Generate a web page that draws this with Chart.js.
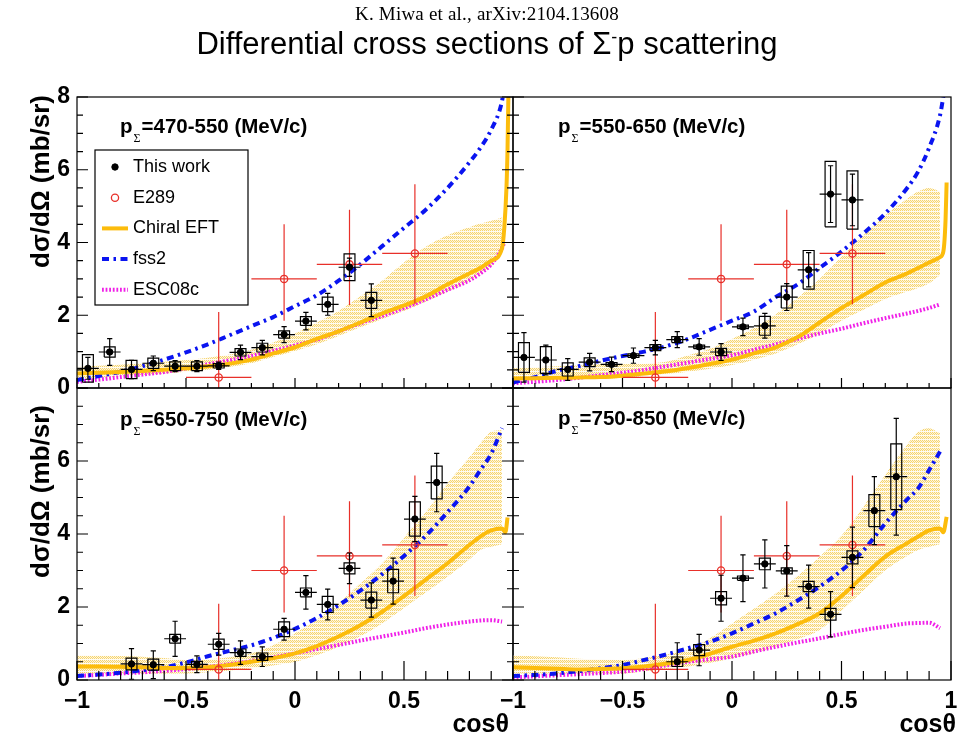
<!DOCTYPE html>
<html>
<head>
<meta charset="utf-8">
<title>Differential cross sections of Σ⁻p scattering</title>
<script src="https://cdn.jsdelivr.net/npm/chart.js@4.4.1/dist/chart.umd.min.js"></script>
<style>
  html, body { margin: 0; padding: 0; background: #fff; }
  #page { position: relative; width: 974px; height: 741px; overflow: hidden; background: #fff;
          font-family: "Liberation Sans", Arial, sans-serif; color: #000; }
  #page canvas { position: absolute; left: 0; top: 0; }
  .txt { position: absolute; white-space: nowrap; }
  #cite { left: 0; width: 974px; top: 3px; text-align: center; font-family: "Liberation Serif", serif;
          font-size: 19px; line-height: 22px; letter-spacing: 0.2px; }
  #title { left: 0; width: 974px; top: 27px; text-align: center; font-size: 31px; line-height: 34px; }
  #title sup { font-size: 18px; position: relative; top: -11px; vertical-align: baseline; margin-left: 0; }
  .ytitle { left: 0; top: 0; width: 300px; text-align: right; font-weight: bold; font-size: 26px;
            line-height: 30px; transform-origin: 0 0; }
  .xtitle { width: 120px; text-align: right; font-weight: bold; font-size: 25px; line-height: 30px; top: 708px; }
  .plabel { font-weight: bold; font-size: 20.5px; line-height: 20px; }
  .plabel .sub { font-family: "Liberation Serif", serif; font-weight: normal; font-size: 12px;
                 position: relative; top: 9px; margin: 0 1px; }
</style>
</head>
<body>
<div id="page">
  <canvas id="cv470" width="974" height="741"></canvas>
  <canvas id="cv550" width="974" height="741"></canvas>
  <canvas id="cv650" width="974" height="741"></canvas>
  <canvas id="cv750" width="974" height="741"></canvas>

  <div class="txt" id="cite">K. Miwa et al., arXiv:2104.13608</div>
  <div class="txt" id="title">Differential cross sections of Σ<sup>-</sup>p scattering</div>

  <div class="txt ytitle" style="transform: translate(25px, 395px) rotate(-90deg);">dσ/dΩ (mb/sr)</div>
  <div class="txt ytitle" style="transform: translate(25px, 705px) rotate(-90deg);">dσ/dΩ (mb/sr)</div>

  <div class="txt xtitle" style="left: 389px;">cosθ</div>
  <div class="txt xtitle" style="left: 836px;">cosθ</div>

  <div class="txt plabel" style="left: 120px; top: 116px;">p<span class="sub">Σ</span>=470-550 (MeV/c)</div>
  <div class="txt plabel" style="left: 558px; top: 116px;">p<span class="sub">Σ</span>=550-650 (MeV/c)</div>
  <div class="txt plabel" style="left: 120px; top: 409px;">p<span class="sub">Σ</span>=650-750 (MeV/c)</div>
  <div class="txt plabel" style="left: 558px; top: 408px;">p<span class="sub">Σ</span>=750-850 (MeV/c)</div>
</div>

<script>
// ---------------- measured cross sections (this work) ----------------
// p = 470-550 MeV/c
const cos470 = [-0.95,-0.85,-0.75,-0.65,-0.55,-0.45,-0.35,-0.25,-0.15,-0.05,0.05,0.15,0.25,0.35];
const ds470  = [0.54,0.99,0.51,0.68,0.60,0.60,0.61,0.98,1.11,1.47,1.84,2.30,3.32,2.41];
const stat470 = [0.30,0.37,0.25,0.20,0.15,0.15,0.10,0.20,0.20,0.22,0.24,0.30,0.25,0.45];
const sys470  = [0.38,0.14,0.25,0.14,0.12,0.12,0.06,0.10,0.12,0.10,0.12,0.20,0.37,0.22];
// p = 550-650 MeV/c
const cos550 = [-0.95,-0.85,-0.75,-0.65,-0.55,-0.45,-0.35,-0.25,-0.15,-0.05,0.05,0.15,0.25,0.35,0.45,0.55];
const ds550  = [0.84,0.77,0.51,0.71,0.65,0.89,1.11,1.33,1.13,0.99,1.68,1.71,2.50,3.25,5.33,5.17];
const stat550 = [0.68,0.41,0.30,0.24,0.20,0.21,0.20,0.22,0.23,0.23,0.24,0.34,0.37,0.47,0.78,0.71];
const sys550  = [0.41,0.37,0.18,0.12,0.05,0.05,0.08,0.08,0.05,0.10,0.05,0.26,0.30,0.53,0.90,0.80];
// p = 650-750 MeV/c
const cos650 = [-0.75,-0.65,-0.55,-0.45,-0.35,-0.25,-0.15,-0.05,0.05,0.15,0.25,0.35,0.45,0.55,0.65];
const ds650  = [0.44,0.42,1.13,0.43,0.98,0.75,0.64,1.39,2.40,2.07,3.06,2.19,2.71,4.41,5.41];
const stat650 = [0.42,0.38,0.48,0.23,0.30,0.32,0.27,0.30,0.46,0.42,0.42,0.47,0.63,0.62,0.80];
const sys650  = [0.16,0.15,0.12,0.08,0.14,0.10,0.10,0.20,0.12,0.22,0.15,0.22,0.32,0.47,0.45];
// p = 750-850 MeV/c
const cos750 = [-0.25,-0.15,-0.05,0.05,0.15,0.25,0.35,0.45,0.55,0.65,0.75];
const ds750  = [0.50,0.82,2.24,2.79,3.18,2.99,2.56,1.80,3.36,4.64,5.57];
const stat750 = [0.52,0.43,0.63,0.64,0.66,0.69,0.59,0.62,0.83,0.93,1.60];
const sys750  = [0.13,0.15,0.18,0.06,0.16,0.08,0.14,0.16,0.18,0.44,0.90];

// ---------------- E289 (KEK) data, same in every panel ----------------
const cosE289   = [-0.35,-0.05,0.25,0.55];
const cosErrE289 = [0.15,0.15,0.15,0.15];
const dsE289    = [0.29,3.00,3.40,3.70];
const errUpE289 = [1.80,1.50,1.50,1.90];
const errLoE289 = [0.29,1.15,1.12,1.40];

// ---------------- model curves ----------------
const modelCos = [-1,-0.9,-0.8,-0.7,-0.6,-0.5,-0.4,-0.3,-0.2,-0.1,0,0.1,0.2,0.3,0.4,0.5,0.6,0.7,0.8,0.85,0.9,0.95];

// 470-550
const fss2_470   = [0.22,0.33,0.45,0.60,0.78,0.98,1.20,1.45,1.70,1.95,2.25,2.55,2.95,3.40,3.90,4.40,4.90,5.50,6.20,6.60,7.10,7.90];
const fss2Tail470 = [[0.96, 8.3]];
const chiral470  = [0.40,0.42,0.44,0.47,0.50,0.54,0.60,0.67,0.78,0.95,1.12,1.35,1.56,1.80,2.05,2.27,2.52,2.85,3.15,3.30,3.50,3.85];
const chiralTail470 = [[0.96,4.4],[0.97,5.5],[0.975,6.6],[0.98,8.5]];
const esc470     = [0.17,0.23,0.30,0.37,0.44,0.54,0.65,0.76,0.88,1.02,1.17,1.33,1.56,1.78,1.98,2.20,2.44,2.70,2.96,3.15,3.40,3.85];
const escTail470 = [[0.96,4.0]];
const bandHi470  = [0.58,0.61,0.64,0.68,0.72,0.77,0.83,0.92,1.05,1.25,1.50,1.80,2.12,2.52,2.95,3.45,3.88,4.20,4.42,4.52,4.60,4.69];
const bandLo470  = [0.26,0.29,0.32,0.36,0.40,0.45,0.50,0.58,0.68,0.85,1.02,1.20,1.43,1.67,1.90,2.12,2.37,2.65,2.95,3.15,3.35,3.75];

// 550-650
const fss2_550   = [0.15,0.30,0.47,0.60,0.75,0.88,1.00,1.15,1.35,1.60,1.85,2.10,2.50,2.85,3.30,3.75,4.25,4.80,5.50,5.95,6.60,7.50];
const fss2Tail550 = [[0.97, 8.2]];
const chiral550  = [0.26,0.27,0.28,0.29,0.30,0.34,0.40,0.46,0.55,0.66,0.78,0.95,1.12,1.40,1.80,2.20,2.55,2.90,3.15,3.30,3.45,3.60];
const chiralTail550 = [[0.965,3.75],[0.975,4.6],[0.98,5.65]];
const esc550     = [0.13,0.17,0.22,0.28,0.35,0.42,0.50,0.60,0.70,0.80,0.90,1.05,1.20,1.35,1.50,1.63,1.78,1.92,2.05,2.12,2.20,2.30];
const escTail550 = [];
const bandHi550  = [0.54,0.57,0.60,0.62,0.65,0.66,0.67,0.72,0.90,1.08,1.35,1.65,2.03,2.48,3.00,3.60,4.20,4.75,5.20,5.40,5.50,5.40];
const bandLo550  = [0.22,0.23,0.24,0.24,0.25,0.28,0.33,0.39,0.45,0.53,0.63,0.78,0.95,1.20,1.50,1.85,2.15,2.45,2.65,2.75,2.88,3.10];

// 650-750
const fss2_650   = [0.11,0.15,0.20,0.27,0.35,0.48,0.65,0.80,0.95,1.15,1.40,1.70,2.05,2.45,2.90,3.40,3.95,4.60,5.30,5.75,6.20,6.90];
const fss2Tail650 = [];
const chiral650  = [0.37,0.37,0.36,0.35,0.33,0.33,0.35,0.41,0.50,0.60,0.73,0.93,1.19,1.50,1.87,2.30,2.75,3.20,3.70,3.93,4.10,4.15];
const chiralTail650 = [[0.965,4.05],[0.975,4.45]];
const esc650     = [0.11,0.14,0.18,0.21,0.25,0.30,0.36,0.43,0.52,0.62,0.73,0.85,0.96,1.08,1.19,1.30,1.42,1.52,1.60,1.63,1.64,1.60];
const escTail650 = [];
const bandHi650  = [0.68,0.67,0.66,0.64,0.60,0.55,0.56,0.62,0.73,0.95,1.28,1.65,2.10,2.65,3.20,3.90,4.60,5.39,6.10,6.48,6.80,6.85];
const bandLo650  = [0.18,0.18,0.18,0.18,0.18,0.18,0.21,0.26,0.32,0.40,0.50,0.68,0.91,1.20,1.55,1.97,2.40,2.83,3.30,3.56,3.65,3.72];

// 750-850
const fss2_750   = [0.11,0.14,0.18,0.24,0.32,0.41,0.55,0.70,0.87,1.05,1.28,1.55,1.83,2.18,2.56,3.00,3.55,4.29,4.95,5.25,5.75,6.26];
const fss2Tail750 = [];
const chiral750  = [0.35,0.33,0.31,0.29,0.30,0.32,0.37,0.45,0.55,0.72,0.91,1.08,1.28,1.53,1.83,2.30,2.85,3.38,3.75,3.93,4.10,4.15];
const chiralTail750 = [[0.965,4.05],[0.98,4.47]];
const esc750     = [0.07,0.10,0.13,0.16,0.19,0.23,0.30,0.40,0.50,0.57,0.64,0.78,0.91,1.03,1.14,1.26,1.37,1.46,1.55,1.56,1.57,1.42];
const escTail750 = [];
const bandHi750  = [0.68,0.65,0.62,0.58,0.56,0.55,0.60,0.70,0.82,1.15,1.55,1.95,2.37,2.85,3.38,3.95,4.75,5.62,6.45,6.80,6.90,6.76];
const bandLo750  = [0.18,0.18,0.18,0.18,0.18,0.18,0.23,0.30,0.37,0.47,0.59,0.74,0.91,1.12,1.37,1.90,2.45,3.01,3.40,3.56,3.65,3.72];

// ---------------- styling ----------------
const FONT = '"Liberation Sans", Arial, sans-serif';
const BLACK = '#000000';
const RED = '#e8302a';
const ORANGE = '#fcbc0c';
const BLUE = '#0a14f0';
const MAGENTA = '#f020e8';
const binHalf = 0.05;      // half width of an angular bin
const boxHalf = 0.025;     // half width of a systematic-error box
const capHalf = 0.012;     // half width of the end caps on statistical bars

// light stippled fill for the Chiral EFT uncertainty band
function bandPattern() {
  const c = document.createElement('canvas');
  c.width = 4; c.height = 4;
  const g = c.getContext('2d');
  g.fillStyle = '#fef6dc'; g.fillRect(0, 0, 4, 4);
  g.fillStyle = '#f6d46f';
  for (let yy = 0; yy < 3; yy++)
    for (let xx = 0; xx < 4; xx++)
      if ((xx + yy) % 2 === 0) g.fillRect(xx, yy, 1, 1);
  g.fillStyle = '#fffbf2'; g.fillRect(0, 3, 4, 1);
  return g.createPattern(c, 'repeat');
}

const xy = (xs, ys) => xs.map((x, i) => ({ x, y: ys[i] }));
const withTail = (xs, ys, tail) => xy(xs, ys).concat(tail.map(([x, y]) => ({ x, y })));
const near = (v, m) => Math.abs(v / m - Math.round(v / m)) < 1e-6;

function statBars(cos, val, lo, hi, halfW, caps) {
  const out = [];
  cos.forEach((x, i) => {
    const y = val[i];
    out.push({ x, y: y - lo[i] }, { x, y: y + hi[i] }, { x, y: null });
    out.push({ x: x - halfW[i], y }, { x: x + halfW[i], y }, { x, y: null });
    if (caps) {
      out.push({ x: x - capHalf, y: y + hi[i] }, { x: x + capHalf, y: y + hi[i] }, { x, y: null });
      out.push({ x: x - capHalf, y: y - lo[i] }, { x: x + capHalf, y: y - lo[i] }, { x, y: null });
    }
  });
  return out;
}

function sysBoxes(cos, val, sys) {
  const out = [];
  cos.forEach((x, i) => {
    const y = val[i], s = sys[i];
    out.push({ x: x - boxHalf, y: y - s }, { x: x + boxHalf, y: y - s }, { x: x + boxHalf, y: y + s },
             { x: x - boxHalf, y: y + s }, { x: x - boxHalf, y: y - s }, { x, y: null });
  });
  return out;
}

function lineSet(label, data, color, width, dash, extra) {
  return Object.assign({
    label, data, showLine: true, pointRadius: 0, pointHoverRadius: 0,
    borderColor: color, borderWidth: width, borderDash: dash, borderCapStyle: 'butt',
    backgroundColor: color, fill: false, tension: 0, spanGaps: false
  }, extra || {});
}

// frame and inward-pointing ticks of each pad, taken from the chart's own scales
const padFrame = {
  id: 'padFrame',
  afterDatasetsDraw(chart, args, o) {
    const { ctx, chartArea: a } = chart;
    const sx = chart.scales.x, sy = chart.scales.y;
    ctx.save();
    ctx.strokeStyle = BLACK;
    ctx.lineWidth = 1.2;
    ctx.strokeRect(a.left, a.top, a.right - a.left, a.bottom - a.top);
    ctx.beginPath();
    sx.ticks.forEach(t => {
      const px = sx.getPixelForValue(t.value);
      const len = near(t.value, 0.5) ? o.xMajor : o.xMinor;
      ctx.moveTo(px, a.bottom); ctx.lineTo(px, a.bottom - len);
    });
    sy.ticks.forEach(t => {
      const py = sy.getPixelForValue(t.value);
      const len = near(t.value, 2) ? 11 : 6;
      ctx.moveTo(a.left, py); ctx.lineTo(a.left + len, py);
      if (o.rightTicks) { ctx.moveTo(a.right, py); ctx.lineTo(a.right - len, py); }
    });
    ctx.stroke();
    ctx.restore();
  }
};

// boxed legend inside the first pad
const padLegend = {
  id: 'padLegend',
  afterDraw(chart, args, o) {
    if (!o || !o.show) return;
    const ctx = chart.ctx;
    const items = chart.data.datasets.filter(d => d.inLegend);
    ctx.save();
    ctx.fillStyle = '#fff';
    ctx.fillRect(o.left, o.top, o.width, o.height);
    ctx.strokeStyle = BLACK; ctx.lineWidth = 1.2;
    ctx.strokeRect(o.left, o.top, o.width, o.height);
    ctx.font = '18px ' + FONT;
    ctx.textBaseline = 'middle';
    items.forEach((d, i) => {
      const yy = o.top + o.firstRow + i * o.rowStep;
      if (d.showLine) {
        ctx.save();
        ctx.strokeStyle = d.borderColor; ctx.lineWidth = d.borderWidth;
        ctx.setLineDash(d.borderDash || []);
        ctx.beginPath(); ctx.moveTo(o.left + o.symFrom, yy); ctx.lineTo(o.left + o.symTo, yy); ctx.stroke();
        ctx.restore();
      } else {
        ctx.beginPath();
        ctx.arc(o.left + o.symMid, yy, d.pointRadius, 0, Math.PI * 2);
        if (d.pointBackgroundColor !== 'transparent') { ctx.fillStyle = d.pointBackgroundColor; ctx.fill(); }
        ctx.strokeStyle = d.pointBorderColor; ctx.lineWidth = d.pointBorderWidth; ctx.stroke();
      }
      ctx.fillStyle = BLACK;
      ctx.fillText(d.label, o.left + o.textX, yy);
    });
    ctx.restore();
  }
};

function fmtCos(v) {
  if (Math.abs(v) < 1e-9) return '0';
  const s = String(Math.round(Math.abs(v) * 10) / 10);
  return (v < 0 ? '\u2212' : '') + s;
}

function makePad(id, p) {
  const yW = 40, xH = 40;
  const pattern = bandPattern();
  const datasets = [
    { label: 'This work', inLegend: true, data: xy(p.cos, p.ds), showLine: false,
      pointRadius: 3.2, pointHoverRadius: 3.2, pointBackgroundColor: BLACK, pointBorderColor: BLACK, pointBorderWidth: 1 },
    lineSet('_stat', statBars(p.cos, p.ds, p.stat, p.stat, p.cos.map(() => binHalf), true), BLACK, 1.2, []),
    lineSet('_sys', sysBoxes(p.cos, p.ds, p.sys), BLACK, 1.2, []),
    { label: 'E289', inLegend: true, data: xy(cosE289, dsE289), showLine: false,
      pointRadius: 3.6, pointHoverRadius: 3.6, pointBackgroundColor: 'transparent', pointBorderColor: RED, pointBorderWidth: 1.3 },
    lineSet('_e289err', statBars(cosE289, dsE289, errLoE289, errUpE289, cosErrE289, false), RED, 1.2, []),
    lineSet('Chiral EFT', withTail(modelCos, p.chiral, p.chiralTail), ORANGE, 4, [], { inLegend: true, cubicInterpolationMode: 'monotone' }),
    lineSet('fss2', withTail(modelCos, p.fss2, p.fss2Tail), BLUE, 4, [7, 4.5, 2.5, 4.5], { inLegend: true, cubicInterpolationMode: 'monotone' }),
    lineSet('ESC08c', withTail(modelCos, p.esc, p.escTail), MAGENTA, 4, [1.8, 1.8], { inLegend: true, cubicInterpolationMode: 'monotone' }),
    { label: '_bandHi', data: xy(modelCos, p.bandHi), showLine: true, pointRadius: 0, borderWidth: 0,
      borderColor: 'rgba(0,0,0,0)', backgroundColor: pattern, fill: '+1', cubicInterpolationMode: 'monotone' },
    { label: '_bandLo', data: xy(modelCos, p.bandLo), showLine: true, pointRadius: 0, borderWidth: 0,
      borderColor: 'rgba(0,0,0,0)', backgroundColor: 'rgba(0,0,0,0)', fill: false, cubicInterpolationMode: 'monotone' }
  ];

  return new Chart(document.getElementById(id), {
    type: 'scatter',
    data: { datasets },
    plugins: [padFrame, padLegend],
    options: {
      responsive: false,
      maintainAspectRatio: false,
      animation: false,
      events: [],
      layout: { padding: { left: p.left - yW, right: 974 - p.right, top: p.top, bottom: 741 - p.bottom - xH } },
      scales: {
        x: {
          type: 'linear', min: -1, max: 1,
          grid: { display: false, drawTicks: false }, border: { display: false },
          ticks: {
            display: p.xLabels, stepSize: 0.1, autoSkip: false, maxRotation: 0, padding: 8,
            color: BLACK, font: { family: FONT, size: 23, weight: 'bold' },
            callback: v => (near(v, 0.5) && !(p.dropLastX && v > 0.99)) ? fmtCos(v) : ''
          },
          afterFit: s => { s.height = xH; s.paddingLeft = 0; s.paddingRight = 0; }
        },
        y: {
          type: 'linear', min: 0, max: 8,
          grid: { display: false, drawTicks: false }, border: { display: false },
          ticks: {
            display: p.yLabels, stepSize: 0.5, autoSkip: false, padding: 7,
            color: BLACK, font: { family: FONT, size: 23, weight: 'bold' },
            callback: v => (near(v, 2) && !(p.dropTopY && v > 7.99)) ? String(Math.round(v)) : ''
          },
          afterFit: s => { s.width = yW; s.paddingTop = 0; s.paddingBottom = 0; }
        }
      },
      plugins: {
        legend: { display: false },
        tooltip: { enabled: false },
        padFrame: { xMajor: p.xMajor, xMinor: p.xMinor, rightTicks: p.rightTicks },
        padLegend: p.legend || { show: false }
      }
    }
  });
}

makePad('cv470', {
  left: 77, right: 513, top: 97, bottom: 388,
  xLabels: false, yLabels: true, dropTopY: false, dropLastX: false,
  xMajor: 10, xMinor: 5, rightTicks: true,
  cos: cos470, ds: ds470, stat: stat470, sys: sys470,
  fss2: fss2_470, fss2Tail: fss2Tail470, chiral: chiral470, chiralTail: chiralTail470,
  esc: esc470, escTail: escTail470, bandHi: bandHi470, bandLo: bandLo470,
  legend: { show: true, left: 95, top: 150, width: 153, height: 155, firstRow: 17, rowStep: 30.7,
            symFrom: 7, symTo: 33, symMid: 20, textX: 38 }
});
makePad('cv550', {
  left: 513, right: 951, top: 97, bottom: 388,
  xLabels: false, yLabels: false, dropTopY: false, dropLastX: false,
  xMajor: 10, xMinor: 5, rightTicks: false,
  cos: cos550, ds: ds550, stat: stat550, sys: sys550,
  fss2: fss2_550, fss2Tail: fss2Tail550, chiral: chiral550, chiralTail: chiralTail550,
  esc: esc550, escTail: escTail550, bandHi: bandHi550, bandLo: bandLo550
});
makePad('cv650', {
  left: 77, right: 513, top: 388, bottom: 680,
  xLabels: true, yLabels: true, dropTopY: true, dropLastX: true,
  xMajor: 19, xMinor: 9, rightTicks: true,
  cos: cos650, ds: ds650, stat: stat650, sys: sys650,
  fss2: fss2_650, fss2Tail: fss2Tail650, chiral: chiral650, chiralTail: chiralTail650,
  esc: esc650, escTail: escTail650, bandHi: bandHi650, bandLo: bandLo650
});
makePad('cv750', {
  left: 513, right: 951, top: 388, bottom: 680,
  xLabels: true, yLabels: false, dropTopY: false, dropLastX: false,
  xMajor: 19, xMinor: 9, rightTicks: false,
  cos: cos750, ds: ds750, stat: stat750, sys: sys750,
  fss2: fss2_750, fss2Tail: fss2Tail750, chiral: chiral750, chiralTail: chiralTail750,
  esc: esc750, escTail: escTail750, bandHi: bandHi750, bandLo: bandLo750
});
</script>
</body>
</html>
